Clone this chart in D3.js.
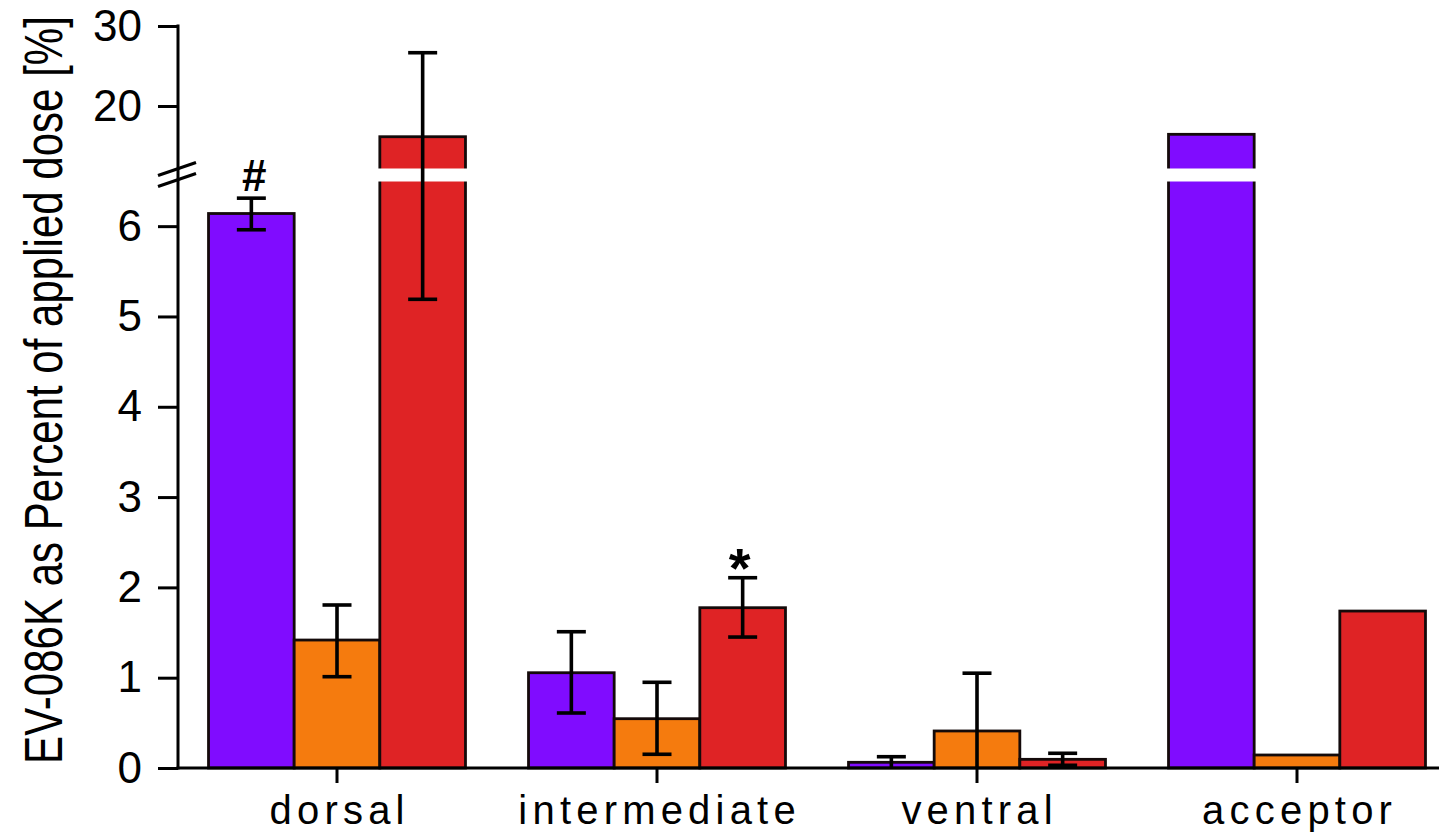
<!DOCTYPE html>
<html>
<head>
<meta charset="utf-8">
<script src="https://cdn.jsdelivr.net/npm/d3@7"></script>
<style>
  html, body { margin: 0; padding: 0; background: #fff; }
  svg { display: block; font-family: "Liberation Sans", Arial, sans-serif; }
</style>
</head>
<body>
<svg id="chart" width="1439" height="834"></svg>
<script>
// Tissue compartments
const categories = ["dorsal", "intermediate", "ventral", "acceptor"];
// Three treatment series, one value per compartment (% of applied dose)
const seriesNames = ["seriesA", "seriesB", "seriesC"];
const seriesA = [6.14, 1.055, 0.063, 16.46];
const seriesB = [1.417, 0.546, 0.41, 0.144];
const seriesC = [16.16, 1.775, 0.096, 1.738];
// Error bar extents (null = no error bar)
const seriesALow  = [5.96, 0.609, 0, null];
const seriesAHigh = [6.31, 1.509, 0.125, null];
const seriesBLow  = [1.011, 0.152, 0, null];
const seriesBHigh = [1.805, 0.949, 1.05, null];
const seriesCLow  = [5.19, 1.45, 0.03, null];
const seriesCHigh = [26.66, 2.107, 0.163, null];
const seriesColors = ["#800cff", "#f57b0e", "#df2325"];
// Tick values for the two parts of the broken axis
const lowerTicks = [0, 1, 2, 3, 4, 5, 6];
const upperTicks = [20, 30];
// Significance marks
const markCategories = ["dorsal", "intermediate"];
const markSeries = [0, 2];
const markTexts = ["#", "*"];

const values = [seriesA, seriesB, seriesC];
const lows = [seriesALow, seriesBLow, seriesCLow];
const highs = [seriesAHigh, seriesBHigh, seriesCHigh];

const svg = d3.select("#chart");
const axisX = 178, baseY = 768;

// Broken y axis: lower segment 0–6.5, upper segment 12–30
const yLow = d3.scaleLinear().domain([0, 6.5]).range([baseY, 181]);
const yUp = d3.scaleLinear().domain([12, 30]).range([170, 26]);
const y = v => (v <= yLow.domain()[1] ? yLow(v) : yUp(Math.max(v, yUp.domain()[0])));

const x0 = d3.scaleBand().domain(categories).range([177, 1457])
  .paddingInner(0.197).paddingOuter(0.0985);
const x1 = d3.scaleBand().domain(d3.range(seriesNames.length)).range([0, x0.bandwidth()]);

const rows = [];
categories.forEach((c, i) => {
  seriesNames.forEach((s, j) => {
    rows.push({ cat: c, s: j, v: values[j][i], lo: lows[j][i], hi: highs[j][i] });
  });
});

// Bars
const g = svg.append("g");
g.selectAll("rect.bar").data(rows).join("rect")
  .attr("class", "bar")
  .attr("x", d => x0(d.cat) + x1(d.s))
  .attr("width", x1.bandwidth())
  .attr("y", d => y(d.v))
  .attr("height", d => baseY - y(d.v))
  .attr("fill", d => seriesColors[d.s])
  .attr("stroke", "#140a0a")
  .attr("stroke-width", 2.8);

// White gap across bars that pass the axis break
const gapTop = yUp(yUp.domain()[0]) - 1.5, gapBot = yLow(yLow.domain()[1]) + 0.5;
g.selectAll("rect.gap").data(rows.filter(d => d.v > yLow.domain()[1])).join("rect")
  .attr("class", "gap")
  .attr("x", d => x0(d.cat) + x1(d.s) - 2)
  .attr("width", x1.bandwidth() + 4)
  .attr("y", gapTop)
  .attr("height", gapBot - gapTop)
  .attr("fill", "#fff");

// Error bars
const errRows = rows.filter(d => d.hi !== null);
const cx = d => x0(d.cat) + x1(d.s) + x1.bandwidth() / 2;
const capW = 14.5;
const eg = svg.append("g").attr("stroke", "#000").attr("stroke-width", 3.6);
eg.selectAll("line.stem").data(errRows).join("line")
  .attr("x1", cx).attr("x2", cx)
  .attr("y1", d => y(d.lo)).attr("y2", d => y(d.hi));
eg.selectAll("line.capHi").data(errRows).join("line")
  .attr("x1", d => cx(d) - capW).attr("x2", d => cx(d) + capW)
  .attr("y1", d => y(d.hi)).attr("y2", d => y(d.hi));
eg.selectAll("line.capLo").data(errRows.filter(d => d.lo > 0)).join("line")
  .attr("x1", d => cx(d) - capW).attr("x2", d => cx(d) + capW)
  .attr("y1", d => y(d.lo)).attr("y2", d => y(d.lo));

// Significance marks
markTexts.forEach((t, k) => {
  const i = categories.indexOf(markCategories[k]);
  const j = markSeries[k];
  const d = { cat: markCategories[k], s: j };
  const top = y(highs[j][i]);
  svg.append("text")
    .attr("x", cx(d) + (t === "#" ? 3 : -3))
    .attr("y", t === "#" ? top - 7 : top + 9)
    .attr("text-anchor", "middle")
    .attr("font-size", t === "#" ? 44 : 56)
    .attr("font-weight", "bold")
    .text(t);
});

// Y axes (two segments)
function styleAxis(sel) {
  sel.select(".domain").remove();
  sel.selectAll(".tick line").attr("stroke", "#000").attr("stroke-width", 3);
  sel.selectAll(".tick text").attr("font-size", 44).attr("fill", "#000")
    .attr("font-family", "'Liberation Sans', Arial, sans-serif");
}
svg.append("g").attr("transform", `translate(${axisX},0)`)
  .call(d3.axisLeft(yLow).tickValues(lowerTicks).tickSize(20).tickPadding(16).tickFormat(d3.format("d")))
  .call(styleAxis);
svg.append("g").attr("transform", `translate(${axisX},0)`)
  .call(d3.axisLeft(yUp).tickValues(upperTicks).tickSize(20).tickPadding(16).tickFormat(d3.format("d")))
  .call(styleAxis);

svg.append("line")
  .attr("x1", axisX).attr("x2", axisX)
  .attr("y1", yUp(30) - 1.5).attr("y2", baseY + 1.5)
  .attr("stroke", "#000").attr("stroke-width", 3);

// Break marks on the y axis
const midBreak = (gapTop + gapBot) / 2;
[-5.5, 5.5].forEach(off => {
  svg.append("line")
    .attr("x1", 158).attr("y1", midBreak + off + 6)
    .attr("x2", 196).attr("y2", midBreak + off - 7)
    .attr("stroke", "#000").attr("stroke-width", 3.2);
});

// X axis
svg.append("line")
  .attr("x1", axisX - 1.5).attr("x2", 1439)
  .attr("y1", baseY).attr("y2", baseY)
  .attr("stroke", "#000").attr("stroke-width", 3);
const xa = svg.append("g").attr("transform", `translate(0,${baseY})`)
  .call(d3.axisBottom(x0).tickSize(15).tickPadding(13));
xa.select(".domain").remove();
xa.selectAll(".tick line").attr("stroke", "#000").attr("stroke-width", 3);
xa.selectAll(".tick text")
  .attr("font-size", 40)
  .attr("fill", "#000")
  .attr("font-family", "'Liberation Sans', Arial, sans-serif")
  .attr("letter-spacing", "5.2px")
  .attr("dx", "2.6px")
  .attr("dy", "0.71em");

// Y axis title: tall, horizontally condensed lettering
const title = svg.append("text")
  .attr("text-anchor", "middle")
  .attr("font-size", 53)
  .text("EV-086K as Percent of applied dose [%]");
const natural = title.node().getComputedTextLength();
const squeeze = 748 / natural;
title.attr("transform", `translate(62,390) rotate(-90) scale(${squeeze},1)`);
</script>
</body>
</html>
